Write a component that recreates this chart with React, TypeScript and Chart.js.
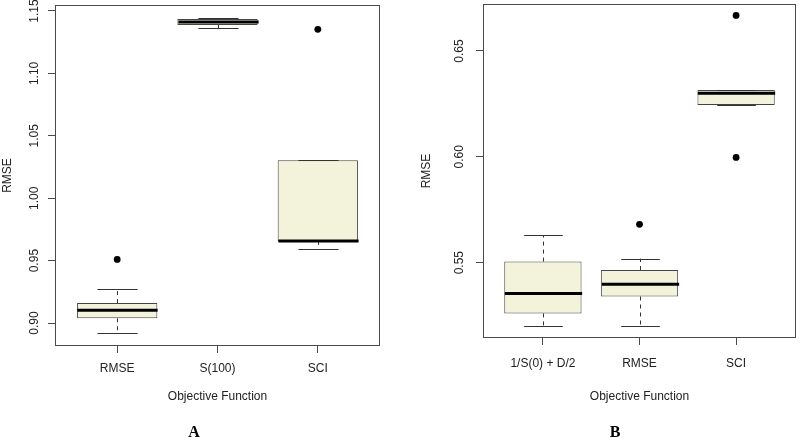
import React, { useEffect, useRef } from "react";
import { Chart, registerables } from "chart.js";

Chart.register(...registerables);

// ---------- Panel A data ----------
const aCategories = ["RMSE", "S(100)", "SCI"];
const aLow = [0.8917, 1.1361, 0.959];
const aQ1 = [0.9038, 1.1388, 0.9657];
const aMedian = [0.9102, 1.1412, 0.9657];
const aQ3 = [0.916, 1.1436, 1.0304];
const aHigh = [0.9272, 1.1441, 1.0304];
const aOutlierCat = [1, 3];
const aOutlierVal = [0.951, 1.1353];
const aYTicks = [0.9, 0.95, 1.0, 1.05, 1.1, 1.15];

// ---------- Panel B data ----------
const bCategories = ["1/S(0) + D/2", "RMSE", "SCI"];
const bLow = [0.52, 0.52, 0.6245];
const bQ1 = [0.526, 0.534, 0.6245];
const bMedian = [0.5354, 0.5398, 0.63];
const bQ3 = [0.5505, 0.5465, 0.6316];
const bHigh = [0.5629, 0.5519, 0.6316];
const bOutlierCat = [2, 3, 3];
const bOutlierVal = [0.5681, 0.6668, 0.5997];
const bYTicks = [0.55, 0.6, 0.65];

const FONT = "'Liberation Sans', Arial, Helvetica, sans-serif";
const FRAME = "#4a4a4a";
const BOX_FILL = "#f3f3dc";

const boxExtras = {
  id: "boxExtras",
  afterDatasetsDraw(chart: any, _args: any, opts: any) {
    const { ctx, chartArea } = chart;
    const x = chart.scales.x;
    const y = chart.scales.y;
    const { low, q1, med, q3, high } = opts;
    ctx.save();
    // frame
    ctx.strokeStyle = FRAME;
    ctx.lineWidth = 1;
    ctx.setLineDash([]);
    ctx.strokeRect(
      Math.round(chartArea.left) + 0.5,
      Math.round(chartArea.top) + 0.5,
      Math.round(chartArea.right - chartArea.left) - 1,
      Math.round(chartArea.bottom - chartArea.top) - 1
    );
    for (let i = 0; i < low.length; i++) {
      const cx = Math.round(x.getPixelForValue(i + 1)) + 0.5;
      const capHalf = x.getPixelForValue(i + 1.2) - x.getPixelForValue(i + 1);
      const boxHalf = x.getPixelForValue(i + 1.4) - x.getPixelForValue(i + 1);
      const yLow = y.getPixelForValue(low[i]);
      const yQ1 = y.getPixelForValue(q1[i]);
      const yQ3 = y.getPixelForValue(q3[i]);
      const yHigh = y.getPixelForValue(high[i]);
      const yMed = y.getPixelForValue(med[i]);
      ctx.strokeStyle = "#333";
      ctx.lineWidth = 1;
      // dashed whiskers
      ctx.setLineDash([4, 4]);
      if (yHigh < yQ3 - 0.5) {
        ctx.beginPath();
        ctx.moveTo(cx, yQ3);
        ctx.lineTo(cx, yHigh);
        ctx.stroke();
      }
      if (yLow > yQ1 + 0.5) {
        ctx.beginPath();
        ctx.moveTo(cx, yQ1);
        ctx.lineTo(cx, yLow);
        ctx.stroke();
      }
      ctx.setLineDash([]);
      // caps
      ctx.beginPath();
      ctx.moveTo(cx - capHalf, Math.round(yHigh) + 0.5);
      ctx.lineTo(cx + capHalf, Math.round(yHigh) + 0.5);
      ctx.moveTo(cx - capHalf, Math.round(yLow) + 0.5);
      ctx.lineTo(cx + capHalf, Math.round(yLow) + 0.5);
      ctx.stroke();
      // median
      ctx.strokeStyle = "#000";
      ctx.lineWidth = 3;
      ctx.beginPath();
      ctx.moveTo(cx - boxHalf, yMed);
      ctx.lineTo(cx + boxHalf, yMed);
      ctx.stroke();
    }
    ctx.restore();
  },
  afterDraw(chart: any, _args: any, opts: any) {
    const { ctx } = chart;
    ctx.save();
    ctx.fillStyle = "#000";
    ctx.font = "bold 16px 'Liberation Serif', 'Times New Roman', serif";
    ctx.textAlign = "center";
    ctx.textBaseline = "alphabetic";
    ctx.fillText(opts.panelLabel, opts.labelX, 437);
    ctx.restore();
  },
};

type PanelProps = {
  categories: string[];
  low: number[];
  q1: number[];
  med: number[];
  q3: number[];
  high: number[];
  outCat: number[];
  outVal: number[];
  yTicks: number[];
  yMin: number;
  yMax: number;
  yAxisWidth: number;
  xAxisHeight: number;
  padTop: number;
  padRight: number;
  yTickPad: number;
  yTitlePad: number;
  xTickPad: number;
  xTitlePadBottom: number;
  panelLabel: string;
  labelX: number;
};

function BoxPanel(p: PanelProps) {
  const ref = useRef<HTMLCanvasElement | null>(null);
  useEffect(() => {
    if (!ref.current) return;
    const boxes = p.categories.map((_, i) => ({ x: i + 1, y: [p.q1[i], p.q3[i]] }));
    const outliers = p.outCat.map((c, i) => ({ x: c, y: p.outVal[i] }));
    const chart = new Chart(ref.current, {
      type: "bar",
      data: {
        datasets: [
          {
            type: "bar",
            data: boxes as any,
            backgroundColor: BOX_FILL,
            borderColor: "#444",
            borderWidth: 1,
            borderSkipped: false,
            categoryPercentage: 1,
            barPercentage: 0.8,
          } as any,
          {
            type: "scatter",
            data: outliers,
            backgroundColor: "#000",
            borderColor: "#000",
            pointRadius: 3.4,
            borderWidth: 0,
          } as any,
        ],
      },
      plugins: [boxExtras],
      options: {
        animation: false,
        responsive: false,
        events: [],
        layout: { padding: { top: p.padTop, right: p.padRight, left: 0, bottom: 0 } },
        plugins: {
          legend: { display: false },
          tooltip: { enabled: false },
          boxExtras: {
            low: p.low,
            q1: p.q1,
            med: p.med,
            q3: p.q3,
            high: p.high,
            panelLabel: p.panelLabel,
            labelX: p.labelX,
          },
        } as any,
        scales: {
          x: {
            type: "linear",
            min: 0.38,
            max: 3.62,
            offset: false,
            afterBuildTicks: (s: any) => {
              s.ticks = p.categories.map((_, i) => ({ value: i + 1 }));
            },
            afterFit: (s: any) => {
              s.height = p.xAxisHeight;
              s.paddingLeft = 0;
              s.paddingRight = 0;
            },
            grid: {
              display: true,
              offset: false,
              drawOnChartArea: false,
              drawTicks: true,
              tickLength: 7,
              color: FRAME,
              tickColor: FRAME,
            },
            border: { display: false },
            ticks: {
              autoSkip: false,
              maxRotation: 0,
              minRotation: 0,
              padding: p.xTickPad,
              color: "#222",
              font: { family: FONT, size: 12 },
              callback: (v: any) => p.categories[Math.round(Number(v)) - 1] ?? "",
            },
            title: {
              display: true,
              text: "Objective Function",
              color: "#222",
              font: { family: FONT, size: 12 },
              padding: { top: 0, bottom: p.xTitlePadBottom },
            },
          },
          y: {
            type: "linear",
            min: p.yMin,
            max: p.yMax,
            afterBuildTicks: (s: any) => {
              s.ticks = p.yTicks.map((v) => ({ value: v }));
            },
            afterFit: (s: any) => {
              s.width = p.yAxisWidth;
              s.paddingTop = 0;
              s.paddingBottom = 0;
            },
            grid: {
              display: true,
              offset: false,
              drawOnChartArea: false,
              drawTicks: true,
              tickLength: 7,
              color: FRAME,
              tickColor: FRAME,
            },
            border: { display: false },
            ticks: {
              minRotation: 90,
              maxRotation: 90,
              crossAlign: "center",
              padding: p.yTickPad,
              color: "#222",
              font: { family: FONT, size: 12 },
              callback: (v: any) => Number(v).toFixed(2),
            },
            title: {
              display: true,
              text: "RMSE",
              color: "#222",
              font: { family: FONT, size: 12 },
              padding: { top: p.yTitlePad, bottom: 0 },
            },
          },
        },
      } as any,
    });
    return () => chart.destroy();
  }, []);
  return (
    <div style={{ width: 400, height: 438 }}>
      <canvas ref={ref} width={400} height={438} style={{ display: "block", width: 400, height: 438 }} />
    </div>
  );
}

export default function App() {
  return (
    <div
      style={{
        position: "fixed",
        left: 0,
        top: 0,
        width: 800,
        height: 438,
        display: "flex",
        background: "#fff",
      }}
    >
      <BoxPanel
        categories={aCategories}
        low={aLow}
        q1={aQ1}
        med={aMedian}
        q3={aQ3}
        high={aHigh}
        outCat={aOutlierCat}
        outVal={aOutlierVal}
        yTicks={aYTicks}
        yMin={0.8816}
        yMax={1.1548}
        yAxisWidth={55}
        xAxisHeight={92}
        padTop={5}
        padRight={20}
        yTickPad={1.3}
        yTitlePad={0}
        xTickPad={8}
        xTitlePadBottom={33.8}
        panelLabel="A"
        labelX={194}
      />
      <BoxPanel
        categories={bCategories}
        low={bLow}
        q1={bQ1}
        med={bMedian}
        q3={bQ3}
        high={bHigh}
        outCat={bOutlierCat}
        outVal={bOutlierVal}
        yTicks={bYTicks}
        yMin={0.5144}
        yMax={0.6722}
        yAxisWidth={83}
        xAxisHeight={100}
        padTop={3}
        padRight={1}
        yTickPad={4.4}
        yTitlePad={19.8}
        xTickPad={11}
        xTitlePadBottom={34}
        panelLabel="B"
        labelX={215}
      />
    </div>
  );
}
